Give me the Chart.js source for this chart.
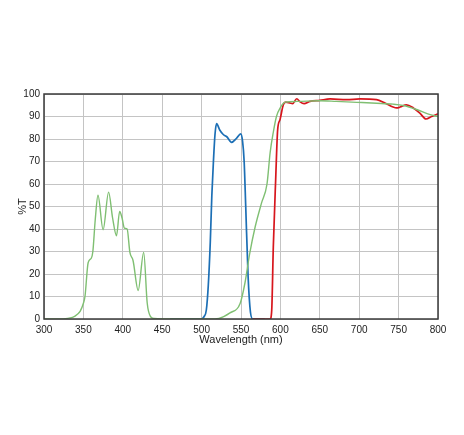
<!DOCTYPE html>
<html>
<head>
<meta charset="utf-8">
<script src="https://cdn.jsdelivr.net/npm/chart.js@4/dist/chart.umd.min.js"></script>
<style>
  html, body { margin: 0; padding: 0; background: #fff; }
  #wrap { width: 464px; height: 435px; }
</style>
</head>
<body>
<div id="wrap"><canvas id="chart" width="464" height="435"></canvas></div>
<script>
// broadband (green) filter
const green_wl = [300, 320, 330, 337, 342, 346, 350, 352, 356, 360, 362, 365, 368.5, 375, 382, 387, 392, 396, 399, 402, 405.5, 409, 413, 419.5, 426.5, 431, 435, 440, 450, 480, 510, 522, 536, 549, 555, 561, 568, 576, 583, 587, 591, 595, 600, 606, 621, 650, 671, 697, 722, 743, 756, 773, 790, 800];
const green_t  = [0, 0, 0.3, 0.8, 2, 3.5, 7, 10, 25, 27, 30, 44, 55, 39.7, 56.4, 45, 37, 47.8, 45, 40.4, 40, 29.6, 26, 12.7, 29.6, 7, 1.2, 0.2, 0, 0, 0, 0.3, 2.7, 7, 16, 29, 41, 51.5, 60, 74, 83, 90, 94, 96.4, 96.7, 97, 96.7, 96.3, 95.9, 95.5, 94.9, 93.1, 90.8, 90];

// bandpass (blue) filter
const blue_wl = [460, 500, 503, 506, 508.5, 511, 513, 515, 517, 519, 523, 527.5, 532, 538, 544.5, 549.6, 552, 554, 556, 559, 562, 565, 580];
const blue_t  = [0, 0, 1, 4, 15, 34, 55, 70, 82, 86.8, 84, 82, 81, 78.5, 80.4, 82.3, 79, 70, 50, 19, 3, 0, 0];

// longpass (red) filter
const red_wl = [565, 587, 589, 591, 594, 596.5, 599.5, 603.7, 607, 612, 615.6, 620.7, 625, 630, 637.6, 650, 663, 684, 701, 722, 732.7, 743, 747.6, 752, 760, 768.7, 777, 784.7, 792, 800];
const red_t  = [0, 0, 4, 32, 62, 84, 88.6, 95.2, 96.4, 96, 95.7, 97.9, 96.5, 95.7, 96.7, 97.2, 97.8, 97.5, 97.8, 97.5, 96, 94.2, 93.8, 94.2, 95.2, 93.8, 91.5, 88.9, 90, 91.2];

const x_ticks = [300, 350, 400, 450, 500, 550, 600, 650, 700, 750, 800];
const y_ticks = [0, 10, 20, 30, 40, 50, 60, 70, 80, 90, 100];

function pts(xs, ys) {
  return xs.map((x, i) => ({x: x, y: ys[i]}));
}

function line(label, xs, ys, color, width) {
  return {
    label: label,
    data: pts(xs, ys),
    borderColor: color,
    borderWidth: width,
    pointRadius: 0,
    fill: false,
    cubicInterpolationMode: 'monotone'
  };
}

// dark frame round the plot area
const frame = {
  id: 'frame',
  afterDatasetsDraw(chart) {
    const a = chart.chartArea;
    const c = chart.ctx;
    c.save();
    c.strokeStyle = '#3a3a3a';
    c.lineWidth = 1.5;
    c.strokeRect(a.left, a.top, a.right - a.left, a.bottom - a.top);
    c.restore();
  }
};

const tick_font = {family: 'Liberation Sans', size: 10};
const title_font = {family: 'Liberation Sans', size: 11};

new Chart(document.getElementById('chart'), {
  type: 'line',
  data: {
    datasets: [
      line('green', green_wl, green_t, '#7fbf72', 1.4),
      line('red', red_wl, red_t, '#d7161d', 1.7),
      line('blue', blue_wl, blue_t, '#1c6fb5', 1.7)
    ]
  },
  options: {
    responsive: false,
    animation: false,
    layout: {padding: {top: 94, right: 26, left: 16, bottom: 88}},
    plugins: {legend: {display: false}, tooltip: {enabled: false}},
    scales: {
      x: {
        type: 'linear',
        min: 300, max: 800,
        afterBuildTicks: s => { s.ticks = x_ticks.map(v => ({value: v})); },
        afterFit: s => { s.height = 28; },
        ticks: {font: tick_font, color: '#222', padding: 5, maxRotation: 0},
        grid: {color: '#c4c4c4', lineWidth: 1, drawTicks: false},
        border: {display: false},
        title: {display: true, text: 'Wavelength (nm)', font: title_font, color: '#222', padding: 0}
      },
      y: {
        min: 0, max: 100,
        afterBuildTicks: s => { s.ticks = y_ticks.map(v => ({value: v})); },
        afterFit: s => { s.width = 28; },
        ticks: {font: tick_font, color: '#222', padding: 4},
        grid: {color: '#c4c4c4', lineWidth: 1, drawTicks: false},
        border: {display: false},
        title: {display: true, text: '%T', font: title_font, color: '#222', padding: 0}
      }
    }
  },
  plugins: [frame]
});
</script>
</body>
</html>
